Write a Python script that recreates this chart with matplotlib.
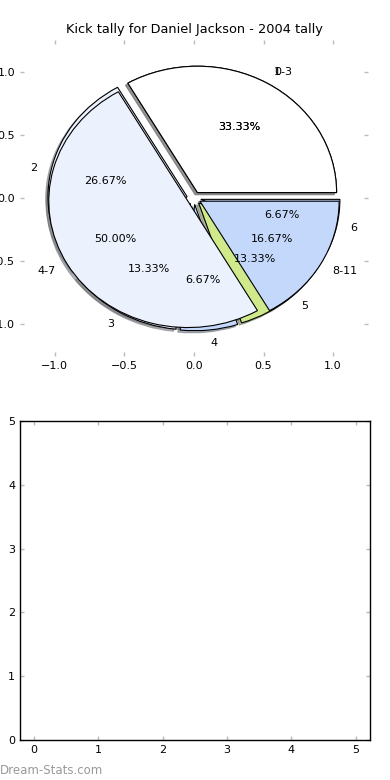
import matplotlib
matplotlib.use('Agg')
import matplotlib.pyplot as plt

# tally per kick number
kick_labels = ['1', '2', '3', '4', '5', '6']
kick_counts = [5, 4, 2, 1, 2, 1]
kick_colors = ['white', '#ebf1fd', '#ebf1fd', '#c4d8fc', '#cfe98b', '#c4d8fc']

# tally per group
group_labels = ['0-3', '4-7', '8-11']
group_counts = [2, 3, 1]
group_colors = ['white', '#ebf1fd', '#c4d8fc']

pie_ticks = [-1.0, -0.5, 0.0, 0.5, 1.0]
box_ticks = [0, 1, 2, 3, 4, 5]

plt.rcParams['font.family'] = 'DejaVu Sans'
plt.rcParams['font.size'] = 8

fig = plt.figure(figsize=(3.9, 7.8), dpi=100)
ax1 = fig.add_axes([0.0513, 0.5436, 0.892, 0.405])
ax2 = fig.add_axes([0.0513, 0.0513, 0.897, 0.409])

wp = {'edgecolor': 'black', 'linewidth': 0.8}
sh = {'ox': -0.012, 'oy': -0.012, 'shade': 0.55}
ax1.pie(kick_counts, labels=kick_labels, colors=kick_colors,
        explode=[0.05] * len(kick_counts), autopct='%1.2f%%',
        shadow=sh, wedgeprops=wp, textprops={'fontsize': 8})
ax1.pie(group_counts, labels=group_labels, colors=group_colors,
        explode=[0.05] * len(group_counts), autopct='%1.2f%%',
        shadow=sh, wedgeprops=wp, textprops={'fontsize': 8})

ax1.set_aspect('auto')
ax1.set_xlim(-1.25, 1.25)
ax1.set_ylim(-1.25, 1.25)
ax1.set_frame_on(False)
ax1.set_xticks(pie_ticks)
ax1.set_yticks(pie_ticks)
ax1.tick_params(direction='in', length=3, color='#bbbbbb', width=1,
                top=True, right=True, labelsize=8)
ax1.set_title('Kick tally for Daniel Jackson - 2004 tally', fontsize=9.3, pad=5)

ax2.set_xlim(-0.22, 5.22)
ax2.set_ylim(0, 5)
ax2.set_xticks(box_ticks)
ax2.set_yticks(box_ticks)
ax2.tick_params(direction='in', length=3, color='#bbbbbb', width=1,
                top=True, right=True, labelsize=8)
for s in ax2.spines.values():
    s.set_linewidth(1)

fig.text(0.0, 10 / 780, 'Dream-Stats.com', color='#999999', fontsize=8.5,
         va='center', ha='left')

fig.savefig('out.png', dpi=100)
